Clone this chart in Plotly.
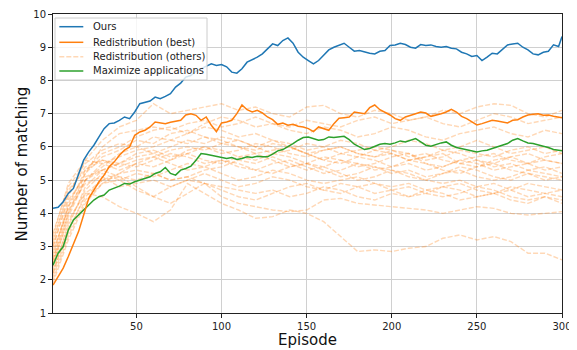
import plotly.graph_objects as go

# ---------------- data ----------------
ep_main = list(range(1, 299, 3)) + [300]

ours = [4.15, 4.18, 4.35, 4.6, 4.75, 5.2, 5.6, 5.85, 6.05, 6.3,
        6.55, 6.7, 6.72, 6.8, 6.9, 6.85, 7.05, 7.3, 7.35, 7.38,
        7.5, 7.45, 7.52, 7.6, 7.8, 7.92, 8.1, 8.15, 8.28, 8.35,
        8.42, 8.5, 8.45, 8.48, 8.41, 8.25, 8.22, 8.35, 8.55, 8.62,
        8.7, 8.8, 8.95, 9.1, 9.05, 9.2, 9.28, 9.12, 8.85, 8.7,
        8.6, 8.5, 8.6, 8.75, 8.92, 9.0, 9.05, 9.12, 9.0, 8.88,
        8.9, 8.85, 8.82, 8.8, 8.88, 8.9, 9.05, 9.07, 9.12, 9.08,
        9.0, 8.97, 9.08, 9.05, 9.07, 9.02, 9.0, 9.02, 8.97, 8.95,
        8.85, 8.8, 8.72, 8.75, 8.6, 8.7, 8.82, 8.8, 8.95, 9.07,
        9.1, 9.12, 9.0, 8.92, 8.8, 8.77, 8.85, 8.88, 9.07, 9.02,
        9.32]

redis_best = [1.84, 2.1, 2.35, 2.7, 3.05, 3.45, 3.95, 4.45, 4.7, 4.95,
              5.15, 5.4, 5.55, 5.75, 5.9, 6.0, 6.35, 6.45, 6.5, 6.6,
              6.75, 6.72, 6.7, 6.74, 6.76, 6.8, 6.96, 7.0, 6.95, 6.8,
              6.9, 6.65, 6.46, 6.72, 6.75, 6.8, 7.0, 7.26, 7.12, 7.05,
              7.1, 7.02, 6.9, 6.82, 6.68, 6.72, 6.65, 6.68, 6.62, 6.6,
              6.55, 6.46, 6.6, 6.55, 6.5, 6.7, 6.86, 6.88, 6.9, 7.05,
              7.02, 7.0, 7.18, 7.26, 7.12, 7.05, 6.96, 6.85, 6.8, 6.9,
              6.96, 7.0, 7.05, 7.02, 6.92, 6.95, 7.0, 7.05, 7.13, 7.05,
              6.92, 6.85, 6.75, 6.66, 6.7, 6.75, 6.8, 6.78, 6.76, 6.72,
              6.8, 6.82, 6.9, 6.96, 6.98, 7.0, 6.95, 6.96, 6.92, 6.9,
              6.88]

max_apps = [2.44, 2.8, 3.0, 3.5, 3.8, 3.95, 4.1, 4.25, 4.4, 4.5,
            4.55, 4.7, 4.75, 4.82, 4.9, 4.88, 4.95, 5.0, 5.05, 5.1,
            5.2, 5.25, 5.38, 5.2, 5.15, 5.3, 5.35, 5.42, 5.6, 5.8,
            5.78, 5.75, 5.72, 5.7, 5.65, 5.68, 5.62, 5.65, 5.7, 5.68,
            5.72, 5.7, 5.7, 5.78, 5.88, 5.92, 6.0, 6.1, 6.2, 6.28,
            6.3, 6.25, 6.2, 6.22, 6.3, 6.28, 6.3, 6.32, 6.22, 6.08,
            6.0, 5.92, 5.95, 6.02, 6.08, 6.1, 6.08, 6.12, 6.18, 6.15,
            6.2, 6.25, 6.15, 6.05, 6.02, 6.08, 6.12, 6.15, 6.05, 5.98,
            5.95, 5.9, 5.88, 5.85, 5.88, 5.9, 5.95, 6.0, 6.05, 6.1,
            6.2, 6.25, 6.18, 6.12, 6.1, 6.05, 6.02, 5.98, 5.92, 5.9,
            5.88]

ep_others = [1] + list(range(10, 301, 10))

others_a = [2.5, 3.8, 4.6, 4.5, 4.2, 4.0, 3.75, 4.1, 4.9, 4.6, 4.3, 4.1, 3.85, 3.9, 4.1, 4.0,
            3.75, 3.3, 2.85, 2.9, 2.85, 2.95, 3.0, 3.25, 3.35, 3.2, 3.3, 3.15, 2.8, 2.8, 2.6]
others_b = [2.2, 3.5, 4.5, 5.0, 5.1, 4.8, 4.5, 4.3, 4.6, 4.9, 4.5, 4.3, 4.2, 4.1, 4.05, 4.1,
            4.4, 4.45, 4.3, 4.25, 4.2, 4.15, 4.1, 4.0, 4.1, 4.2, 4.15, 4.0, 3.95, 4.0, 4.05]
others_c = [3.0, 4.5, 5.6, 6.2, 6.6, 6.8, 7.3, 7.0, 7.1, 7.2, 7.3, 7.1, 7.2, 7.0, 6.9, 7.2,
            7.25, 7.0, 6.9, 7.1, 7.0, 6.8, 6.9, 7.1, 7.0, 7.2, 7.3, 7.25, 7.0, 6.9, 7.1]
others_d = [2.8, 4.2, 5.3, 5.8, 6.0, 6.3, 6.5, 6.6, 6.4, 6.7, 6.9, 6.8, 6.6, 6.7, 6.5, 6.4,
            6.6, 6.5, 6.3, 6.4, 6.6, 6.5, 6.3, 6.2, 6.4, 6.5, 6.6, 6.4, 6.3, 6.5, 6.4]
others_e = [2.6, 4.0, 5.0, 5.5, 5.7, 5.9, 6.0, 6.2, 6.1, 6.3, 6.2, 6.0, 5.9, 6.1, 6.0, 5.8,
            5.9, 6.0, 5.8, 5.7, 5.9, 5.8, 5.6, 5.7, 5.9, 5.8, 5.7, 5.9, 6.0, 5.8, 5.9]
others_f = [3.2, 4.6, 5.4, 5.6, 5.5, 5.7, 5.8, 5.6, 5.9, 6.0, 5.8, 5.9, 6.1, 6.0, 5.8, 5.7,
            5.9, 6.0, 5.8, 5.7, 5.8, 5.6, 5.7, 5.9, 5.8, 5.6, 5.5, 5.7, 5.8, 5.6, 5.5]
others_g = [2.3, 3.6, 4.8, 5.3, 5.5, 5.4, 5.6, 5.8, 5.7, 5.5, 5.6, 5.4, 5.3, 5.5, 5.6, 5.4,
            5.2, 5.3, 5.5, 5.4, 5.2, 5.3, 5.1, 5.2, 5.4, 5.3, 5.1, 5.0, 5.2, 5.1, 5.0]
others_h = [3.4, 4.8, 5.5, 5.9, 6.1, 6.0, 5.8, 6.0, 6.2, 6.1, 6.3, 6.2, 6.0, 6.2, 6.1, 5.9,
            6.0, 5.8, 5.7, 5.9, 5.8, 5.6, 5.7, 5.8, 5.5, 5.4, 5.6, 5.7, 5.5, 5.6, 5.5]
others_i = [2.0, 3.3, 4.4, 4.9, 5.0, 5.2, 5.1, 5.3, 5.5, 5.4, 5.2, 5.0, 5.1, 5.3, 5.2, 5.0,
            4.9, 5.0, 5.1, 4.9, 4.8, 4.9, 4.7, 4.8, 4.9, 4.7, 4.6, 4.8, 4.7, 4.6, 4.7]
others_j = [2.7, 4.3, 5.2, 5.7, 5.9, 6.2, 6.1, 6.4, 6.5, 6.3, 6.1, 6.0, 5.8, 5.9, 6.0, 5.8,
            5.6, 5.8, 5.9, 6.0, 5.9, 5.7, 5.8, 5.6, 5.5, 5.6, 5.4, 5.5, 5.3, 5.4, 5.2]
others_k = [3.0, 4.4, 5.1, 5.3, 5.1, 5.0, 5.2, 5.0, 5.1, 5.3, 5.4, 5.6, 5.5, 5.7, 5.5, 5.3,
            5.4, 5.2, 5.0, 5.1, 5.3, 5.2, 5.0, 4.9, 5.0, 4.8, 4.9, 4.7, 4.5, 4.6, 4.5]
others_l = [2.4, 3.9, 5.0, 5.4, 5.8, 6.0, 6.3, 6.2, 6.4, 6.6, 6.5, 6.3, 6.4, 6.2, 6.0, 5.8,
            5.6, 5.5, 5.7, 5.6, 5.4, 5.5, 5.3, 5.4, 5.6, 5.5, 5.3, 5.4, 5.5, 5.3, 5.4]
others_m = [3.3, 4.9, 5.6, 5.5, 5.3, 5.5, 5.4, 5.6, 5.8, 5.6, 5.5, 5.7, 5.8, 5.6, 5.4, 5.5,
            5.7, 5.6, 5.4, 5.5, 5.7, 5.8, 5.5, 5.4, 5.6, 5.7, 5.8, 5.6, 5.5, 5.7, 5.8]
others_n = [2.9, 4.1, 4.9, 5.1, 4.8, 4.9, 5.0, 4.8, 5.0, 5.2, 5.0, 4.8, 4.9, 5.1, 5.0, 4.8,
            4.7, 4.9, 4.8, 4.6, 4.7, 4.8, 4.6, 4.5, 4.6, 4.8, 4.7, 4.5, 4.4, 4.5, 4.3]
others_o = [2.5, 4.0, 5.2, 6.0, 6.4, 6.5, 6.6, 6.5, 6.7, 6.8, 6.6, 6.7, 6.9, 6.7, 6.6, 6.8,
            6.7, 6.6, 6.8, 6.9, 6.7, 6.8, 6.9, 6.7, 6.6, 6.8, 7.0, 6.9, 6.7, 6.8, 6.9]
others_p = [1.9, 3.2, 4.3, 4.9, 5.2, 5.5, 5.7, 5.9, 6.0, 5.9, 6.1, 6.2, 6.0, 5.8, 5.9, 6.1,
            6.0, 6.2, 6.1, 5.9, 6.0, 6.2, 6.1, 5.9, 6.0, 6.2, 6.0, 5.8, 5.9, 6.0, 5.8]
others_q = [2.1, 3.4, 4.6, 5.0, 5.2, 5.3, 5.2, 5.0, 5.1, 4.9, 4.8, 4.7, 4.6, 4.7, 4.5, 4.6,
            4.8, 4.7, 4.5, 4.4, 4.6, 4.5, 4.7, 4.6, 4.4, 4.5, 4.6, 4.4, 4.3, 4.5, 4.4]
others_r = [3.1, 4.7, 5.3, 5.6, 5.4, 5.6, 5.7, 5.5, 5.3, 5.4, 5.6, 5.5, 5.3, 5.2, 5.4, 5.5,
            5.3, 5.1, 5.2, 5.4, 5.3, 5.1, 5.0, 5.2, 5.3, 5.1, 5.0, 5.1, 5.3, 5.2, 5.1]
others_s = [2.6, 4.2, 5.0, 5.3, 5.5, 5.8, 5.9, 5.7, 5.8, 6.0, 5.9, 5.7, 5.6, 5.8, 5.7, 5.5,
            5.4, 5.6, 5.5, 5.3, 5.4, 5.6, 5.5, 5.3, 5.2, 5.4, 5.5, 5.3, 5.2, 5.0, 5.1]
others_t = [2.2, 3.7, 4.7, 5.2, 5.0, 4.7, 4.5, 4.8, 5.0, 4.9, 4.7, 4.5, 4.4, 4.6, 4.8, 4.9,
            4.7, 4.6, 4.8, 4.9, 4.7, 4.5, 4.6, 4.8, 4.7, 4.5, 4.6, 4.7, 4.9, 4.8, 4.7]

others = [others_a, others_b, others_c, others_d, others_e, others_f, others_g, others_h,
          others_i, others_j, others_k, others_l, others_m, others_n, others_o, others_p,
          others_q, others_r, others_s, others_t]

x_ticks = [50, 100, 150, 200, 250, 300]
y_ticks = [1, 2, 3, 4, 5, 6, 7, 8, 9, 10]

legend_labels = ["Ours", "Redistribution (best)", "Redistribution (others)", "Maximize applications"]

assert len(ours) == len(ep_main) and len(redis_best) == len(ep_main) and len(max_apps) == len(ep_main)
for s in others:
    assert len(s) == len(ep_others)

# ---------------- styling ----------------
BLUE = "#1f77b4"
ORANGE = "#ff7f0e"
GREEN = "#2ca02c"
OTHER = "rgba(255,127,14,0.3)"
FONT = "DejaVu Sans"

W, H = 577, 350
# the page body adds an 8px offset; margins are chosen so that the plot area
# lands at x 53..562, y 14..313 of the photographed window
ML, MR, MT, MB = 45, 23, 6, 45
OFF = 8
PL, PT = ML + OFF, MT + OFF
PW, PH = W - ML - MR, H - MT - MB


def px_x(px):
    return (px - PL) / PW


def px_y(py):
    return 1 - (py - PT) / PH


fig = go.Figure()
for s in others:
    fig.add_trace(go.Scatter(
        x=ep_others, y=s, mode="lines",
        line=dict(color=OTHER, width=1.4, dash="5px,2px"),
        showlegend=False, hoverinfo="skip"))

fig.add_trace(go.Scatter(x=ep_main, y=max_apps, mode="lines",
                         line=dict(color=GREEN, width=1.5), showlegend=False))
fig.add_trace(go.Scatter(x=ep_main, y=redis_best, mode="lines",
                         line=dict(color=ORANGE, width=1.5), showlegend=False))
fig.add_trace(go.Scatter(x=ep_main, y=ours, mode="lines",
                         line=dict(color=BLUE, width=1.5), showlegend=False))

axis_common = dict(
    showgrid=True, gridcolor="#d0d0d0", gridwidth=1,
    showline=True, linecolor="#222222", linewidth=1, mirror=True,
    ticks="outside", ticklen=4, tickcolor="#222222",
    tickfont=dict(family=FONT, size=10, color="#222222"),
    zeroline=False, automargin=False,
)
fig.update_xaxes(range=[1, 300], tickvals=x_ticks, **axis_common)
fig.update_yaxes(range=[1, 10], tickvals=y_ticks, **axis_common)

# axis titles
annotations = [
    dict(text="Episode", x=px_x(307), y=px_y(340), xref="paper", yref="paper",
         xanchor="center", yanchor="middle", showarrow=False,
         font=dict(family=FONT, size=15, color="#111111")),
    dict(text="Number of matching", x=px_x(21.5), y=px_y(164), xref="paper", yref="paper",
         xanchor="center", yanchor="middle", showarrow=False, textangle=-90,
         font=dict(family=FONT, size=15, color="#111111")),
]

# matplotlib-style legend box
shapes = [
    dict(type="rect", xref="paper", yref="paper",
         x0=px_x(55), x1=px_x(207), y0=px_y(80), y1=px_y(18),
         fillcolor="rgba(255,255,255,0.8)", line=dict(color="#cccccc", width=1), layer="above"),
]
legend_styles = [
    dict(color=BLUE, width=1.5, dash="solid"),
    dict(color=ORANGE, width=1.5, dash="solid"),
    dict(color=OTHER, width=1.5, dash="5px,2px"),
    dict(color=GREEN, width=1.5, dash="solid"),
]
entry_y = [26.7, 42.3, 56.7, 71.0]
for lab, sty, ey in zip(legend_labels, legend_styles, entry_y):
    shapes.append(dict(type="line", xref="paper", yref="paper",
                       x0=px_x(59.3), x1=px_x(83.3), y0=px_y(ey), y1=px_y(ey),
                       line=sty, layer="above"))
    annotations.append(dict(text=lab, x=px_x(90.7), y=px_y(ey), xref="paper", yref="paper",
                            xanchor="left", yanchor="middle", showarrow=False,
                            font=dict(family=FONT, size=10, color="#222222")))

fig.update_layout(
    width=W, height=H,
    margin=dict(l=ML, r=MR, t=MT, b=MB),
    paper_bgcolor="white", plot_bgcolor="white",
    showlegend=False,
    shapes=shapes, annotations=annotations,
    font=dict(family=FONT),
)

fig.write_html("out.html")
